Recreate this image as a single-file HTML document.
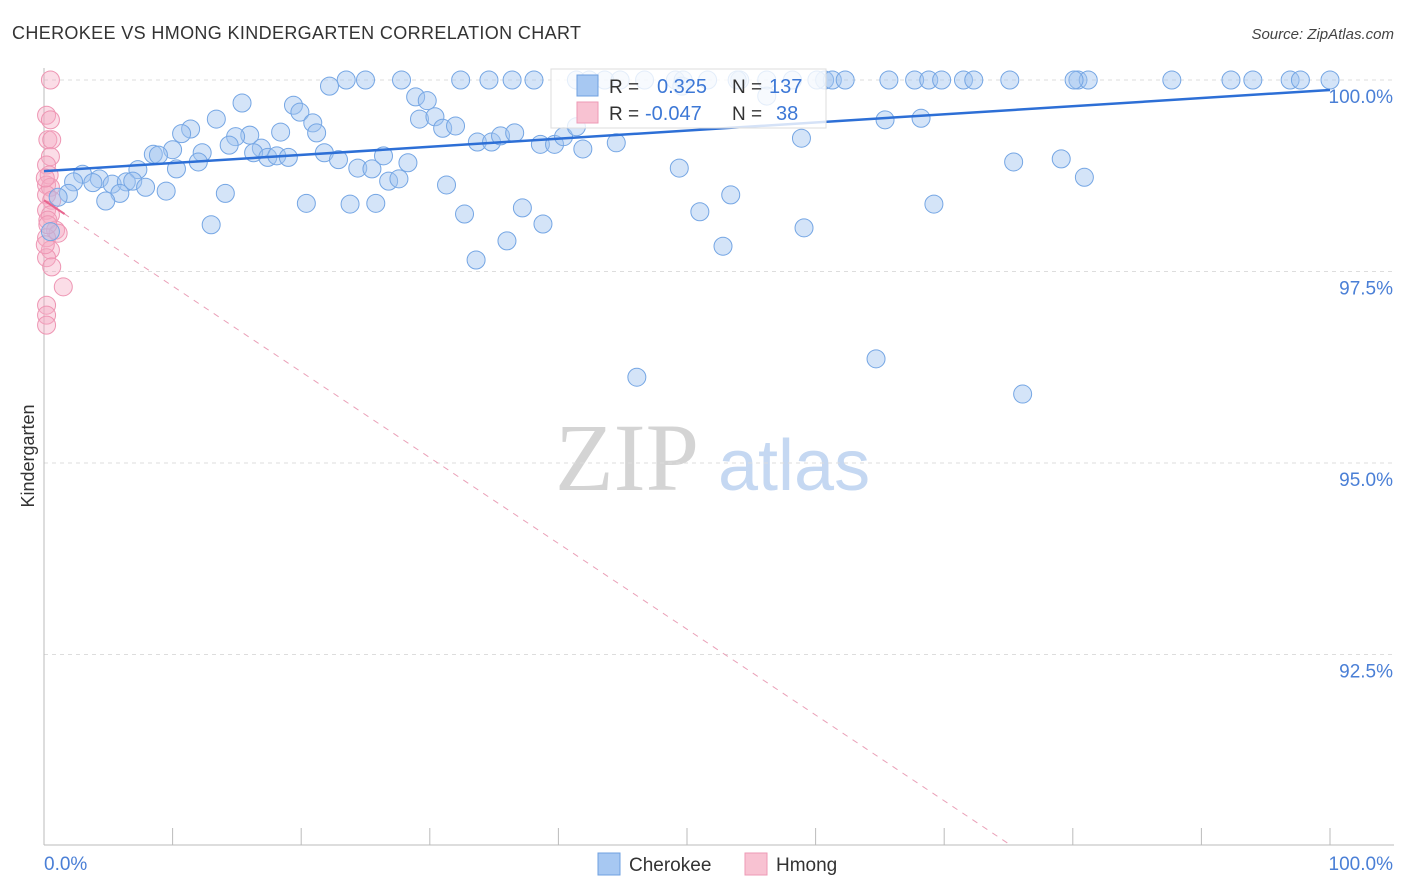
<!DOCTYPE html>
<html><head><meta charset="utf-8">
<style>
body{margin:0;background:#fff;font-family:"Liberation Sans",sans-serif;}
svg{display:block}
</style></head>
<body>
<svg id="chart" width="1406" height="892" viewBox="0 0 1406 892" xmlns="http://www.w3.org/2000/svg">
<text x="12" y="39" font-size="18" fill="#333" textLength="569" lengthAdjust="spacing" font-family="Liberation Sans, sans-serif">CHEROKEE VS HMONG KINDERGARTEN CORRELATION CHART</text>
<text x="1394" y="39" font-size="15" fill="#444" font-style="italic" text-anchor="end">Source: ZipAtlas.com</text>
<g>
<text x="555" y="490" font-size="96" fill="#d4d4d4" font-family="Liberation Serif, serif">ZIP</text>
<text x="718" y="490" font-size="72" fill="#c5d8f2" font-family="Liberation Sans, sans-serif">atlas</text>
</g>
<g id="grid"></g>
<g id="axes"></g>
<g id="pts"></g>
<g id="trend"></g>
<text transform="translate(34,456) rotate(-90)" font-size="18" fill="#333" text-anchor="middle">Kindergarten</text>
<g id="legendbox">
<rect x="551" y="69" width="275" height="59" fill="#fff" fill-opacity="0.8" stroke="#ddd"/>
<rect x="577" y="75" width="21" height="21" fill="#a7c8f2" stroke="#6fa0e0"/>
<text x="609" y="93" font-size="19" fill="#333">R =</text>
<text x="657" y="93" font-size="20" fill="#3d78d6">0.325</text>
<text x="732" y="93" font-size="19" fill="#333">N =</text>
<text x="769" y="93" font-size="20" fill="#3d78d6">137</text>
<rect x="577" y="102" width="21" height="21" fill="#f8c2d2" stroke="#ee9ab5"/>
<text x="609" y="120" font-size="19" fill="#333">R =</text>
<text x="645" y="120" font-size="20" fill="#3d78d6">-0.047</text>
<text x="732" y="120" font-size="19" fill="#333">N =</text>
<text x="776" y="120" font-size="20" fill="#3d78d6">38</text>
</g>
<g>
<rect x="598" y="853" width="22" height="22" fill="#a7c8f2" stroke="#6fa0e0"/>
<text x="629" y="871" font-size="19" fill="#333">Cherokee</text>
<rect x="745" y="853" width="22" height="22" fill="#f8c2d2" stroke="#ee9ab5"/>
<text x="776" y="871" font-size="19" fill="#333">Hmong</text>
</g>
</svg>
<script>
const NS="http://www.w3.org/2000/svg";
const yTicks=[100,97.5,95,92.5];
const yTickLabels=["100.0%","97.5%","95.0%","92.5%"];
const xTickCount=10;
const xLabels=["0.0%","100.0%"];
const cherokeeX=[23.5,25.0,27.8,32.4,34.6,36.4,38.1,41.4,43.6,46.7,49.1,51.6,54.1,56.2,58.2,60.7,61.3,62.3,65.7,67.7,68.8,69.8,71.5,72.3,75.1,80.4,81.2,87.7,92.3,94.0,96.9,97.7,100,42.4,44.8,49.7,53.9,60.1,
22.2,15.4,19.4,19.9,13.4,20.9,21.2,11.4,10.7,18.4,16.0,14.9,14.4,10.0,8.5,8.9,12.3,16.9,16.3,17.4,18.1,19.0,21.8,22.9,12.0,10.3,7.3,3.0,2.3,4.3,3.8,5.3,6.4,6.9,7.9,5.9,4.8,1.9,1.1,9.5,14.1,13.0,20.4,23.8,24.4,25.5,26.4,25.8,26.8,27.6,28.3,28.9,29.8,29.2,30.4,31.0,32.0,31.3,32.7,33.6,33.7,34.8,35.5,36.6,36.0,37.2,38.8,38.6,39.7,40.4,41.4,41.9,44.5,49.4,49.6,46.1,51.0,52.8,53.4,56.2,58.9,59.1,64.7,65.4,68.2,69.2,75.4,76.1,79.1,80.9,80.1,0.5];
const cherokeeY=[100,100,100,100,100,100,100,100,100,100,100,100,100,100,100,100,100,100,100,100,100,100,100,100,100,100,100,100,100,100,100,100,100,100,100,100,100,100,
99.92,99.70,99.67,99.58,99.49,99.44,99.31,99.36,99.30,99.32,99.28,99.26,99.15,99.09,99.03,99.02,99.05,99.11,99.05,98.99,99.01,98.99,99.05,98.96,98.93,98.84,98.83,98.77,98.67,98.71,98.66,98.64,98.67,98.68,98.60,98.52,98.42,98.52,98.47,98.55,98.52,98.11,98.39,98.38,98.85,98.84,99.01,98.39,98.68,98.71,98.92,99.78,99.73,99.49,99.52,99.37,99.40,98.63,98.25,97.65,99.19,99.19,99.27,99.31,97.90,98.33,98.12,99.16,99.16,99.26,99.39,99.10,99.18,98.85,99.92,96.12,98.28,97.83,98.50,99.79,99.24,98.07,96.36,99.48,99.50,98.38,98.93,95.90,98.97,98.73,100,98.02];
const hmongX=[0.5,0.2,0.5,0.3,0.6,0.5,0.2,0.4,0.2,0.5,0.2,0.6,0.2,0.5,0.3,0.9,1.1,0.2,0.5,0.2,0.6,1.5,0.2,0.2,0.2,0.1,0.3,0.1];
const hmongY=[100,99.54,99.48,99.22,99.22,99.0,98.89,98.76,98.63,98.60,98.50,98.43,98.30,98.24,98.17,98.04,98.00,97.94,97.78,97.68,97.56,97.30,97.06,96.93,96.80,98.72,98.11,97.85];
const blueTrend=[98.81,99.87];
const pinkTrend=[98.43,-0.112];
const X0=44,X1=1330,Y100=80,YPER=76.6;
const sx=v=>X0+(X1-X0)*v/100;
const sy=v=>Y100+(100-v)*YPER;
function mk(tag,attrs,parent){const e=document.createElementNS(NS,tag);for(const k in attrs)e.setAttribute(k,attrs[k]);parent.appendChild(e);return e;}
const svg=document.getElementById('chart');
const grid=document.getElementById('grid'),axes=document.getElementById('axes'),pts=document.getElementById('pts'),tr=document.getElementById('trend');
yTicks.forEach((t,i)=>{
 const l=mk('line',{x1:44,x2:1394,y1:sy(t),y2:sy(t),stroke:'#ddd','stroke-dasharray':'4,4'},grid);
 
 
 const tx=mk('text',{x:1393,y:sy(t)+23,'font-size':19,fill:'#4a7fd6','text-anchor':'end'},grid);
 tx.textContent=yTickLabels[i];
 
 
});
const ya=mk('line',{x1:44,x2:44,y1:68,y2:845,stroke:'#bbb'},axes);


const xa=mk('line',{x1:44,x2:1394,y1:845,y2:845,stroke:'#bbb'},axes);


for(let i=0;i<=xTickCount;i++){
 const x=sx(i*100/xTickCount);
 const t=mk('line',{x1:x,x2:x,y1:828,y2:845,stroke:'#bbb'},axes);
 
 
}
const xl0=mk('text',{x:44,y:870,'font-size':19,fill:'#4a7fd6'},axes);xl0.textContent=xLabels[0];


const xl1=mk('text',{x:1393,y:870,'font-size':19,fill:'#4a7fd6','text-anchor':'end'},axes);xl1.textContent=xLabels[1];


hmongX.forEach((v,i)=>{
 const c=mk('circle',{cx:sx(v),cy:sy(hmongY[i]),r:9,fill:'rgba(246,170,196,0.4)',stroke:'#ee95b3','stroke-width':1},pts);
 
 
});
cherokeeX.forEach((v,i)=>{
 const c=mk('circle',{cx:sx(v),cy:sy(cherokeeY[i]),r:9,fill:'rgba(160,196,240,0.45)',stroke:'#75a6e4','stroke-width':1},pts);
 
 
});
const bl=mk('line',{x1:sx(0),y1:sy(blueTrend[0]),x2:sx(100),y2:sy(blueTrend[1]),stroke:'#2d6fd6','stroke-width':2.5},tr);


const xEnd=(pinkTrend[0]-90)/(-pinkTrend[1]);
const pd=mk('line',{x1:sx(0),y1:sy(pinkTrend[0]),x2:sx(xEnd),y2:sy(90),stroke:'#eaa0b8','stroke-width':1,'stroke-dasharray':'6,6'},tr);


const ps=mk('line',{x1:sx(0),y1:sy(pinkTrend[0]),x2:sx(1.6),y2:sy(pinkTrend[0]+pinkTrend[1]*1.6),stroke:'#e8658f','stroke-width':2},tr);


svg.appendChild(document.getElementById('legendbox'));
</script>
</body></html>
